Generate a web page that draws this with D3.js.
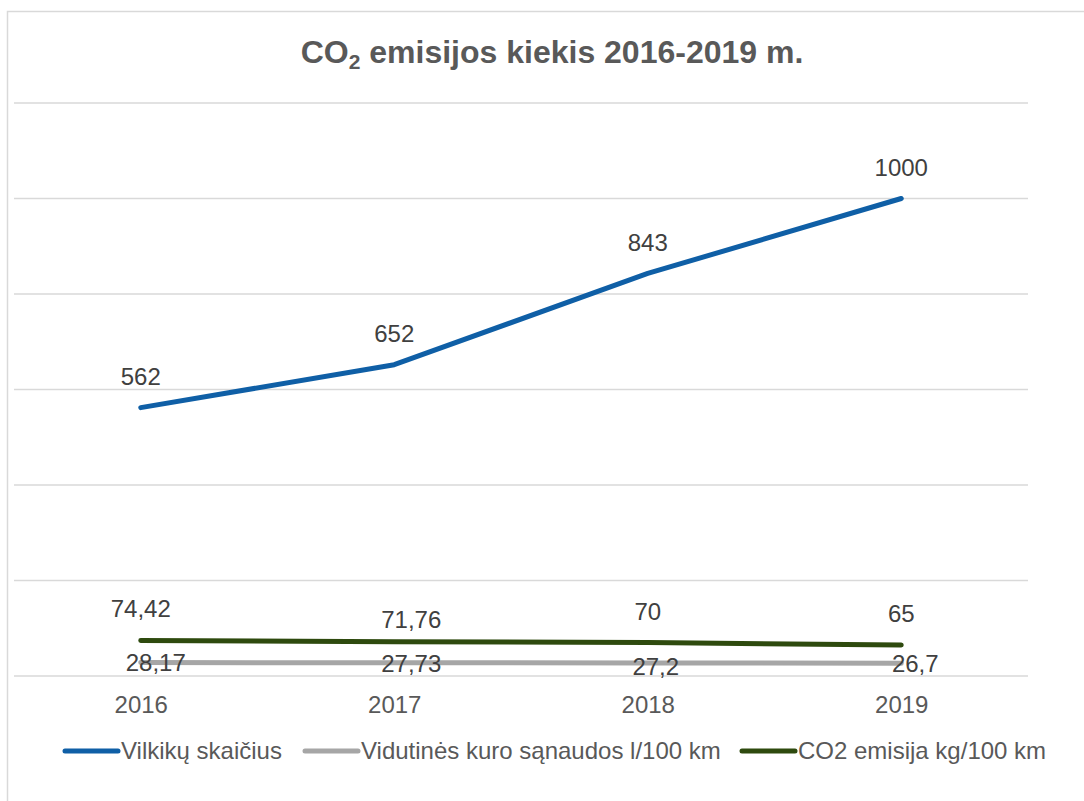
<!DOCTYPE html>
<html>
<head>
<meta charset="utf-8">
<script src="https://cdn.jsdelivr.net/npm/d3@7"></script>
<style>
  body { margin: 0; background: #fff; }
  svg { font-family: "Liberation Sans", Arial, sans-serif; }
</style>
</head>
<body>
<svg width="1084" height="801"></svg>
<script>
// chart data
var years = ["2016", "2017", "2018", "2019"];
var trucks = [562, 652, 843, 1000];
var fuel = [28.17, 27.73, 27.2, 26.7];
var co2 = [74.42, 71.76, 70, 65];
var yTicks = [0, 200, 400, 600, 800, 1000, 1200];

var seriesNames = ["Vilkikų skaičius", "Vidutinės kuro sąnaudos l/100 km", "CO2 emisija kg/100 km"];

// series styles + label nudges (excel put them a bit everywhere)
var series = [
    { name: seriesNames[0], values: trucks, color: "#0f5fa6", lab: [[0, -31], [0, -31], [0, -31], [0, -31]] },
    { name: seriesNames[1], values: fuel, color: "#a6a6a6", lab: [[15, 0], [17, 1], [8, 4], [14, 0]] },
    { name: seriesNames[2], values: co2, color: "#2e4a0e", lab: [[0, -32], [17, -22], [0, -31], [0, -31]] }
];

function fmt(v) {
    return String(v).replace(".", ",");
}

var svg = d3.select("svg");

// outer frame
svg.append("rect")
    .attr("x", 7.5).attr("y", 11.5)
    .attr("width", 1100).attr("height", 820)
    .attr("fill", "none")
    .attr("stroke", "#d9d9d9")
    .attr("stroke-width", 1.5);

var x = d3.scalePoint().domain(years).range([14, 1028]).padding(0.5);
var y = d3.scaleLinear().domain([0, 1200]).range([676, 103]);

// gridlines
svg.append("g").selectAll("line").data(yTicks).enter().append("line")
    .attr("x1", 14).attr("x2", 1028)
    .attr("y1", function (d) { return y(d); })
    .attr("y2", function (d) { return y(d); })
    .attr("stroke", "#d9d9d9")
    .attr("stroke-width", 1.5);

// x axis labels
var xAxis = d3.axisBottom(x).tickSize(0).tickPadding(20);
var gx = svg.append("g").attr("transform", "translate(0,676)").call(xAxis);
gx.select(".domain").remove();
gx.selectAll("text")
    .attr("font-size", 24)
    .attr("fill", "#595959")
    .attr("font-family", "Liberation Sans, Arial, sans-serif");

// title
var title = svg.append("text")
    .attr("x", 552).attr("y", 63)
    .attr("text-anchor", "middle")
    .attr("font-size", 32)
    .attr("font-weight", "bold")
    .attr("fill", "#595959");
title.append("tspan").text("CO");
title.append("tspan").attr("font-size", 21).attr("dy", 6).text("2");
title.append("tspan").attr("dy", -6).text(" emisijos kiekis 2016-2019 m.");

var line = d3.line()
    .x(function (d, i) { return x(years[i]); })
    .y(function (d) { return y(d); });

// draw grey first, then green, then blue on top
[1, 2, 0].forEach(function (k) {
    var s = series[k];
    svg.append("path")
        .datum(s.values)
        .attr("d", line)
        .attr("fill", "none")
        .attr("stroke", s.color)
        .attr("stroke-width", 5)
        .attr("stroke-linecap", "round")
        .attr("stroke-linejoin", "round");
});

// data labels
series.forEach(function (s) {
    svg.append("g").selectAll("text").data(s.values).enter().append("text")
        .attr("x", function (d, i) { return x(years[i]) + s.lab[i][0]; })
        .attr("y", function (d, i) { return y(d) + s.lab[i][1]; })
        .attr("dy", "0.35em")
        .attr("text-anchor", "middle")
        .attr("font-size", 24)
        .attr("fill", "#404040")
        .text(fmt);
});

// legend
var legendX = [63, 303, 740];
var leg = svg.append("g").selectAll("g").data(series).enter().append("g")
    .attr("transform", function (d, i) { return "translate(" + legendX[i] + ",751)"; });
leg.append("line")
    .attr("x1", 2).attr("x2", 55)
    .attr("stroke", function (d) { return d.color; })
    .attr("stroke-width", 5)
    .attr("stroke-linecap", "round");
leg.append("text")
    .attr("x", 58)
    .attr("dy", "0.35em")
    .attr("font-size", 24)
    .attr("fill", "#595959")
    .text(function (d) { return d.name; });
</script>
</body>
</html>
